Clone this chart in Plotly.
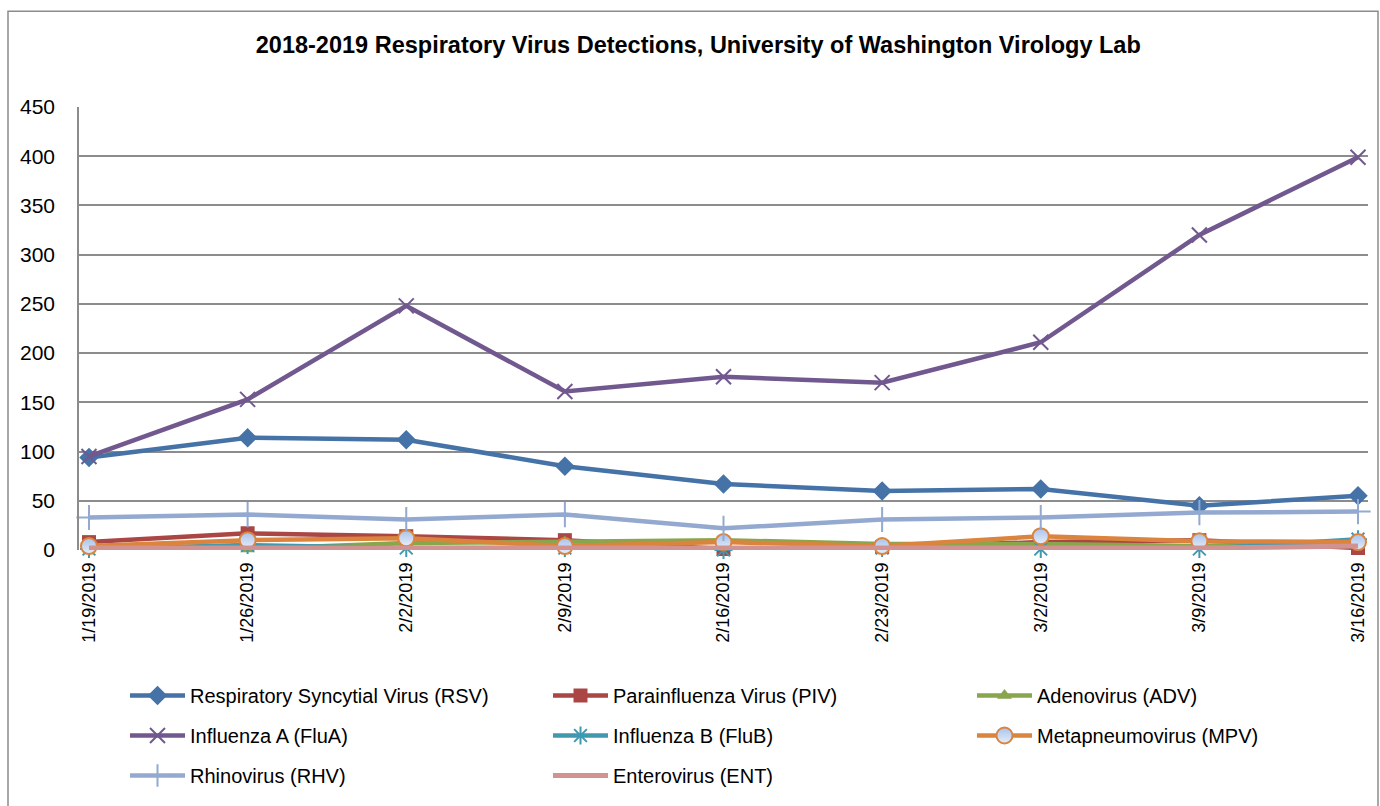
import plotly.graph_objects as go

# Weekly detection counts, University of Washington Virology Lab
weeks = ["1/19/2019", "1/26/2019", "2/2/2019", "2/9/2019", "2/16/2019",
         "2/23/2019", "3/2/2019", "3/9/2019", "3/16/2019"]

rsv = [94, 114, 112, 85, 67, 60, 62, 45, 55]
piv = [8, 17, 14, 10, 1, 3, 8, 10, 2]
adv = [2, 1, 7, 8, 10, 6, 6, 4, 7]
flua = [95, 153, 248, 161, 176, 170, 211, 320, 399]
flub = [1, 5, 2, 2, 0, 2, 1, 1, 11]
mpv = [4, 10, 12, 4, 8, 4, 14, 9, 8]
rhv = [33, 36, 31, 36, 22, 31, 33, 38, 39]
ent = [2, 2, 2, 2, 2, 2, 2, 2, 4]

y_ticks = [0, 50, 100, 150, 200, 250, 300, 350, 400, 450]

FONT = "Liberation Sans, Arial, sans-serif"

# name, values, line colour, marker style, legend column
series = [
    ("Respiratory Syncytial Virus (RSV)", rsv, "#4572A7",
     dict(symbol="diamond", size=15, color="#4572A7"), "legend"),
    ("Parainfluenza Virus (PIV)", piv, "#AA4643",
     dict(symbol="square", size=14, color="#AA4643"), "legend2"),
    ("Adenovirus (ADV)", adv, "#89A54E",
     dict(symbol="triangle-up", size=13, color="#89A54E"), "legend3"),
    ("Influenza A (FluA)", flua, "#71588F",
     dict(symbol="x-thin-open", size=15, color="#71588F",
          line=dict(color="#71588F", width=2)), "legend"),
    ("Influenza B (FluB)", flub, "#4198AF",
     dict(symbol="asterisk-open", size=15, color="#4198AF",
          line=dict(color="#4198AF", width=2)), "legend2"),
    ("Metapneumovirus (MPV)", mpv, "#DB843D",
     dict(symbol="circle", size=16, color="#A9C2EA",
          gradient=dict(type="vertical", color="#E6EEFA"),
          line=dict(color="#DB843D", width=2)), "legend3"),
    ("Rhinovirus (RHV)", rhv, "#93A9CF",
     dict(symbol="cross-thin-open", size=18, color="#93A9CF",
          line=dict(color="#93A9CF", width=2)), "legend"),
    ("Enterovirus (ENT)", ent, "#D19392", None, "legend2"),
]

fig = go.Figure()
for name, vals, color, marker, leg in series:
    fig.add_trace(go.Scatter(
        x=list(range(len(weeks))), y=vals, name=name,
        mode="lines+markers" if marker else "lines",
        line=dict(color=color, width=5 if marker is None else 4.5),
        marker=marker, legend=leg, legendgroup=name,
        cliponaxis=False,
    ))

PLOT_L, PLOT_W, PLOT_B, PLOT_H = 79, 1289, 551, 444


def px_x(x):
    return (x - PLOT_L) / PLOT_W


def px_y(y):
    return (PLOT_B - y) / PLOT_H


legend_style = dict(
    orientation="v", xanchor="left", yanchor="top", y=px_y(676),
    itemwidth=55, tracegroupgap=11,
    font=dict(size=20, color="black"),
    bgcolor="rgba(0,0,0,0)",
)

fig.update_layout(
    width=1380, height=806,
    margin=dict(l=79, r=12, t=107, b=255),
    paper_bgcolor="white", plot_bgcolor="white",
    font=dict(family=FONT, color="black", size=20),
    title=dict(
        text="<b>2018-2019 Respiratory Virus Detections, University of Washington Virology Lab</b>",
        x=0.506, xanchor="center", xref="container",
        y=1 - 45 / 806, yanchor="middle", yref="container",
        font=dict(family=FONT, size=23.5, color="black"),
    ),
    xaxis=dict(
        range=[-0.063, 8.063],
        tickmode="array", tickvals=list(range(len(weeks))), ticktext=weeks,
        tickangle=-90, tickfont=dict(size=18), ticklabelstandoff=8,
        showgrid=False, zeroline=False,
        showline=False, ticks="",
    ),
    yaxis=dict(
        range=[0, 450], tickvals=y_ticks,
        showgrid=True, gridcolor="#8C8C8C", gridwidth=1.5,
        zeroline=False, showline=True, linecolor="#8C8C8C", linewidth=1.5,
        ticks="", ticklabelstandoff=18, tickfont=dict(size=21),
    ),
    showlegend=True,
    legend=dict(x=px_x(125), **legend_style),
    legend2=dict(x=px_x(548), **legend_style),
    legend3=dict(x=px_x(972), **legend_style),
)

# Outer chart border
fig.add_shape(type="rect", xref="paper", yref="paper",
              x0=px_x(8), x1=px_x(1378),
              y0=-0.6, y1=px_y(11),
              line=dict(color="#8C8C8C", width=1.5), layer="below")

fig.write_html("out.html")
